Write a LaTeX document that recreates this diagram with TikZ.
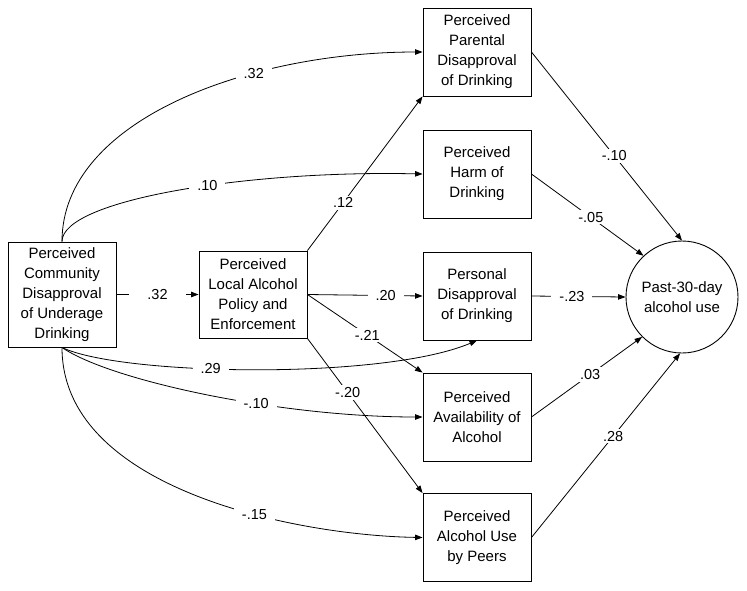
\documentclass[tikz,border=0pt]{standalone}
\usepackage{fontspec}
\setmainfont{Liberation Sans}
\usetikzlibrary{arrows.meta}
\begin{document}
\begin{tikzpicture}[x=1pt,y=-1pt,
    box/.style={draw,line width=0.9pt,align=center,minimum width=108pt,
      minimum height=88pt,inner sep=0pt,font=\fontsize{15}{20}\selectfont},
    outcome/.style={draw,circle,line width=0.9pt,align=center,minimum size=112pt,
      inner sep=0pt,font=\fontsize{15}{20}\selectfont},
    coef/.style={fill=white,inner xsep=8pt,inner ysep=2pt,font=\fontsize{14.5}{16}\selectfont}]
  \useasboundingbox (0,0) rectangle (747,590);
  \draw
    (62,294.5) node[box,minimum height=105pt] (comm){Perceived\\Community\\Disapproval\\of Underage\\Drinking}
    (253,294.5) node[box,minimum height=87pt] (policy){Perceived\\Local Alcohol\\Policy and\\Enforcement}
    (477,52) node[box] (parent){Perceived\\Parental\\Disapproval\\of Drinking}
    (477,174) node[box] (harm){Perceived\\Harm of\\Drinking}
    (477,296) node[box] (personal){Personal\\Disapproval\\of Drinking}
    (477,417) node[box] (avail){Perceived\\Availability of\\Alcohol}
    (477,537.5) node[box] (peers){Perceived\\Alcohol Use\\by Peers}
    (682,297) node[outcome] (use){Past-30-day\\alcohol use};
  \begin{scope}[-{Triangle[length=7.5pt,width=5.5pt]},line width=0.8pt]
    \draw (comm.east) to node[coef,inner xsep=18pt]{.32} (policy.west);
    \draw (comm.north) .. controls +(0,-122) and +(-173,0) .. (parent.west) node[coef,pos=.67]{.32};
    \draw (comm.north) .. controls +(0,-42) and +(-173,-4) .. (harm.west) node[coef,pos=.57]{.10};
    \draw (comm.south) .. controls +(58,28) and +(-95,40) .. (personal.south) node[coef,pos=.41]{.29};
    \draw (comm.south) .. controls +(48,33) and +(-143,0) .. (avail.west) node[coef,pos=.62]{-.10};
    \draw (comm.south) .. controls +(0,143) and +(-123,-2) .. (peers.west) node[coef,pos=.625]{-.15};
    \draw (policy.north east) to node[coef,pos=.31]{.12} (parent.south west);
    \draw (policy.east) to node[coef,pos=.68]{.20} (personal.west);
    \draw (policy.east) to node[coef,pos=.52]{-.21} (avail.north west);
    \draw (policy.south east) to node[coef,pos=.35]{-.20} (peers.north west);
    \draw (parent.east) to node[coef,pos=.55]{-.10} (use.north);
    \draw (harm.east) to node[coef,pos=.53]{-.05} (use.133);
    \draw (personal.east) to node[coef,pos=.43]{-.23} (use.west);
    \draw (avail.east) to node[coef,pos=.53]{.03} (use.225);
    \draw (peers.east) to node[coef,pos=.55]{.28} (use.268);
  \end{scope}
\end{tikzpicture}
\end{document}
